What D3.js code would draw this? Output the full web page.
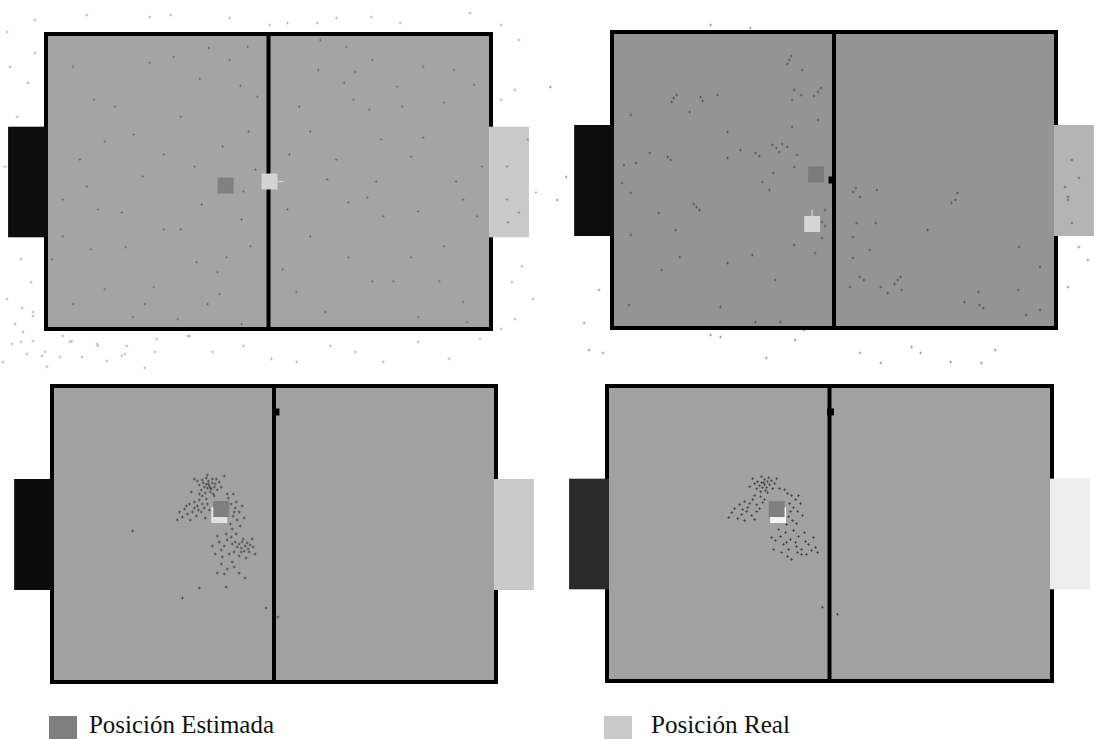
<!DOCTYPE html>
<html>
<head>
<meta charset="utf-8">
<script src="https://cdn.jsdelivr.net/npm/d3@7"></script>
<style>
  body { margin: 0; background: #fff; }
  svg { display: block; }
</style>
</head>
<body>
<svg id="chart" width="1094" height="739"></svg>
<script>
// field units: 0..450 across, 0..300 down (top-left corner of the pitch)
const fieldW = 450;
const fieldH = 300;

// particle clouds, one per snapshot
const particles1 = [
  [156,47],[197,54],[137,85],[61,110],[120,123],[151,135],[19,205],[47,218],[82,216],[29,273],
  [101,273],[164,273],[176,263],[153,231],[183,226],[110,256],[174,241],[207,215],[198,188],[158,173],
  [120,198],[137,198],[78,181],[54,178],[43,155],[36,128],[71,75],[50,68],[29,35],[106,31],
  [130,25],[165,16],[204,15],[186,28],[214,65],[205,100],[179,115],[200,160],[212,138],[90,103],
  [99,145],[19,168],[8,228],[61,258],[89,286],[134,288],[198,293],
  [277,8],[303,15],[329,28],[380,35],[411,38],[275,38],[312,40],[301,51],[354,55],[431,53],
  [256,75],[310,68],[359,75],[401,71],[267,100],[326,78],[338,108],[380,106],[246,123],[293,128],
  [368,125],[413,150],[333,150],[284,148],[324,166],[244,178],[375,180],[420,168],[340,185],[267,205],
  [305,226],[368,226],[401,215],[434,185],[253,261],[282,281],[329,250],[350,250],[396,250],[420,271],
  [424,291],[375,286],[239,238],[439,135],[305,171],
  [106,-15],[127,-17],[186,-14],[226,-7],[244,-9],[274,-9],[293,-14],[328,-15],[357,-9],[427,-19],
  [458,-7],[476,8],[-9,-12],[-37,0],[43,-17],[-34,35],[-9,21],[-16,51],[-27,85],[-39,135],
  [-23,228],[-13,251],[-37,268],[-11,285],[458,68],[472,58],[493,161],[479,235],[469,251],[490,268],
  [472,288],[-23,311],[1,321],[26,311],[54,315],[78,325],[113,308],[144,305],[169,321],[200,315],
  [228,328],[253,331],[287,315],[312,321],[340,331],[375,311],[406,328],[437,308],[458,298],[-22,277],
  [-11,281],[-29,293],[-21,301],[-32,313],[-11,310],[19,305],[28,310],[53,313],[83,315],[146,305],
  [-17,323],[-2,325],[16,326],[38,326],[63,330],[81,323],[111,321],[3,336],[101,337],[-41,331],
  [464,135],[464,168],[476,181],[465,191],[485,108]
];

const particles2 = [
  [180,30],[193,40],[64,68],[91,67],[108,65],[80,82],[21,85],[185,60],[192,65],[209,62],
  [183,70],[209,90],[183,97],[118,102],[40,123],[61,130],[131,120],[146,123],[167,118],[178,117],
  [188,125],[118,128],[26,133],[14,135],[185,137],[164,143],[153,152],[160,160],[21,163],[12,153],
  [87,177],[49,183],[66,200],[21,205],[216,180],[213,192],[213,208],[206,223],[185,215],[143,225],
  [118,233],[52,240],[19,275],[111,277],[171,292],[146,292],[166,250],[70,227],
  [212,58],[205,66],[62,72],[67,65],[170,122],[163,115],[173,114],[182,26],[178,34],[93,71],
  [58,127],[150,126],[84,174],[90,180],[216,196],
  [244,162],[251,167],[268,160],[349,163],[343,173],[248,193],[244,207],[267,193],[319,200],[244,228],
  [261,220],[272,257],[289,250],[241,257],[279,263],[411,217],[432,237],[410,260],[370,262],[356,272],
  [371,275],[418,285],[432,280],[293,260],[251,247],[247,158],[255,250],[286,254],[292,247],[375,278],
  [347,170],
  [101,-5],[141,-2],[-60,57],[-44,147],[-53,170],[464,130],[460,167],[471,148],[471,217],[480,230],
  [460,257],[-11,260],[-26,293],[-21,320],[-7,323],[101,305],[111,307],[186,310],[157,328],[303,317],
  [312,323],[342,332],[373,333],[387,320],[251,323],[272,333],[195,300],[457,157],[460,170],[464,193]
];

const particles3 = [
  [160,102],[157,100],[163,99],[158,104],[162,105],[155,103],[165,103],[159,97],[161,108],[154,99],
  [166,100],[152,106],[168,106],[157,94],[163,95],[150,101],[170,98],[156,109],[164,110],[159,100],
  [161,104],[153,96],[167,95],[148,97],[172,103],[158,91],[165,112],[150,110],[145,95],[175,92],
  [178,110],[142,108],
  [135,125],[140,120],[145,118],[148,122],[150,116],[153,120],[155,124],[143,128],[138,130],[147,132],
  [152,128],[158,120],[133,133],[141,136],[156,134],[160,126],[137,122],[149,126],[145,124],[130,128],
  [128,136],[153,112],[157,115],
  [182,120],[186,124],[190,128],[184,132],[188,136],[181,140],[191,142],[185,128],[193,122],[187,118],
  [183,145],[195,134],[179,114],[184,110],
  [190,160],[193,158],[196,162],[199,165],[192,164],[195,167],[198,159],[201,161],[188,163],[194,155],
  [186,158],[200,168],[204,163],[183,160],[178,156],[175,162],[170,158],[172,166],[180,170],[185,168],
  [168,152],[177,150],[182,153],[166,170],[173,173],[190,172],[197,174],[206,170],[203,155],[187,150],
  [163,162],[192,168],
  [172,180],[178,185],[185,183],[190,189],[175,190],[183,178],
  [83,147],[133,214],[150,204],[217,224],[226,226],[229,233],[168,189],[196,194],[177,203]
];

const particles4 = [
  [160,101],[157,99],[163,98],[158,104],[162,104],[155,102],[165,101],[160,96],[161,107],[153,98],
  [167,97],[152,105],[168,105],[157,93],[164,94],[150,100],[170,100],[156,108],[163,109],[159,99],
  [148,95],[172,95],[145,103],[175,105],
  [130,125],[135,121],[140,118],[145,120],[148,116],[152,121],[155,125],[142,128],[137,131],[147,132],
  [152,128],[158,119],[133,135],[140,137],[150,136],[127,129],[124,134],[143,124],[138,126],[156,113],
  [150,112],[160,116],
  [183,110],[187,112],[191,116],[185,120],[189,124],[193,128],[184,133],[188,137],[182,141],[192,140],
  [196,120],[186,128],[194,112],[180,106],[198,132],
  [176,153],[181,149],[186,156],[191,159],[194,153],[201,158],[204,161],[211,164],[197,166],[193,169],
  [184,166],[179,161],[171,157],[169,166],[183,173],[187,176],[197,171],[202,171],[209,154],[200,149],
  [189,147],[174,146],[167,154],[213,169],[192,163],[182,159],[177,169],[207,167],
  [218,224],[233,231]
];

// robot poses: x, y, heading in degrees (null = not drawn)
const realPos = [[226,150,0],[203,194,90],[170,131,null],[173.5,131.5,null]];
const estPos = [[182,154],[207,144.5],[172,125],[172,125.5]];
const ballPos = [null,[223,150],[227,28],[226,28]];

const legendLabels = ["Posición Estimada", "Posición Real"];

// layout and look of each snapshot
const panels = [
  { box: [44, 32, 449, 299],  fill: "#a4a4a4", goalL: "#0d0d0d", goalR: "#c9c9c9", real: "#d3d3d3", est: "#808080", dotOpacity: 0.22 },
  { box: [610, 30, 448, 300], fill: "#949494", goalL: "#0c0c0c", goalR: "#b4b4b4", real: "#d4d4d4", est: "#7b7b7b", dotOpacity: 0.3 },
  { box: [50, 384, 448, 300], fill: "#a1a1a1", goalL: "#0b0b0b", goalR: "#c9c9c9", real: "#e2e2e2", est: "#7f7f7f", dotOpacity: 0.4 },
  { box: [605, 384, 449, 299], fill: "#a1a1a1", goalL: "#2a2a2a", goalR: "#ededed", real: "#f5f5f5", est: "#7f7f7f", dotOpacity: 0.4 }
];
const allParticles = [particles1, particles2, particles3, particles4];

const goal = { depth: 36, top: 95, bottom: 206 };
const robotSize = 16;
const ballSize = 7;
const border = 4;

const svg = d3.select("#chart");

panels.forEach(function(p, i) {
  const [bx, by, bw, bh] = p.box;
  const xScale = d3.scaleLinear().domain([0, fieldW]).range([bx, bx + bw]);
  const yScale = d3.scaleLinear().domain([0, fieldH]).range([by, by + bh]);
  const g = svg.append("g").attr("class", "panel-" + i);

  // pitch
  g.append("rect")
    .attr("x", xScale(0) + border / 2)
    .attr("y", yScale(0) + border / 2)
    .attr("width", xScale(fieldW) - xScale(0) - border)
    .attr("height", yScale(fieldH) - yScale(0) - border)
    .attr("fill", p.fill)
    .attr("stroke", "#000")
    .attr("stroke-width", border);

  g.append("line")
    .attr("x1", xScale(fieldW / 2)).attr("x2", xScale(fieldW / 2))
    .attr("y1", yScale(0) + 1).attr("y2", yScale(fieldH) - 1)
    .attr("stroke", "#000")
    .attr("stroke-width", border);

  // goals sit over the border
  g.append("rect")
    .attr("x", xScale(-goal.depth))
    .attr("y", yScale(goal.top))
    .attr("width", xScale(0) - xScale(-goal.depth) + border)
    .attr("height", yScale(goal.bottom) - yScale(goal.top))
    .attr("fill", p.goalL);

  g.append("rect")
    .attr("x", xScale(fieldW) - border)
    .attr("y", yScale(goal.top))
    .attr("width", xScale(fieldW + goal.depth) - xScale(fieldW) + border)
    .attr("height", yScale(goal.bottom) - yScale(goal.top))
    .attr("fill", p.goalR);

  // particles as tiny crosses
  g.append("g")
    .selectAll("path")
    .data(allParticles[i])
    .enter()
    .append("path")
    .attr("d", d => `M${xScale(d[0]) - 1.5},${yScale(d[1])}h3M${xScale(d[0])},${yScale(d[1]) - 1.5}v3`)
    .attr("stroke", "#000")
    .attr("stroke-opacity", p.dotOpacity)
    .attr("stroke-width", 1)
    .attr("fill", "none");

  // ball
  if (ballPos[i]) {
    const b = ballPos[i];
    g.append("rect")
      .attr("x", xScale(b[0] - ballSize / 2))
      .attr("y", yScale(b[1] - ballSize / 2))
      .attr("width", xScale(ballSize) - xScale(0))
      .attr("height", yScale(ballSize) - yScale(0))
      .attr("fill", "#000");
  }

  // real pose
  const r = realPos[i];
  if (r[2] !== null) {
    const rad = r[2] * Math.PI / 180;
    const len = robotSize / 2 + 6;
    g.append("line")
      .attr("x1", xScale(r[0])).attr("y1", yScale(r[1]))
      .attr("x2", xScale(r[0] + Math.cos(rad) * len))
      .attr("y2", yScale(r[1] - Math.sin(rad) * len))
      .attr("stroke", p.real)
      .attr("stroke-width", 1.2);
  }
  g.append("rect")
    .attr("x", xScale(r[0] - robotSize / 2))
    .attr("y", yScale(r[1] - robotSize / 2))
    .attr("width", xScale(robotSize) - xScale(0))
    .attr("height", yScale(robotSize) - yScale(0))
    .attr("fill", p.real);

  // estimated pose
  const e = estPos[i];
  g.append("rect")
    .attr("x", xScale(e[0] - robotSize / 2))
    .attr("y", yScale(e[1] - robotSize / 2))
    .attr("width", xScale(robotSize) - xScale(0))
    .attr("height", yScale(robotSize) - yScale(0))
    .attr("fill", p.est);
});

// legend along the bottom
const legend = [
  { label: legendLabels[0], color: "#7f7f7f", x: 49, textX: 89, textLen: 185 },
  { label: legendLabels[1], color: "#c9c9c9", x: 604, textX: 651, textLen: 139 }
];

legend.forEach(function(l) {
  svg.append("rect")
    .attr("x", l.x).attr("y", 716)
    .attr("width", 28).attr("height", 24)
    .attr("fill", l.color);
  svg.append("text")
    .attr("x", l.textX).attr("y", 733)
    .attr("font-family", "'Liberation Serif', 'Times New Roman', serif")
    .attr("font-size", 26)
    .attr("textLength", l.textLen)
    .attr("lengthAdjust", "spacingAndGlyphs")
    .attr("fill", "#111")
    .text(l.label);
});
</script>
</body>
</html>
